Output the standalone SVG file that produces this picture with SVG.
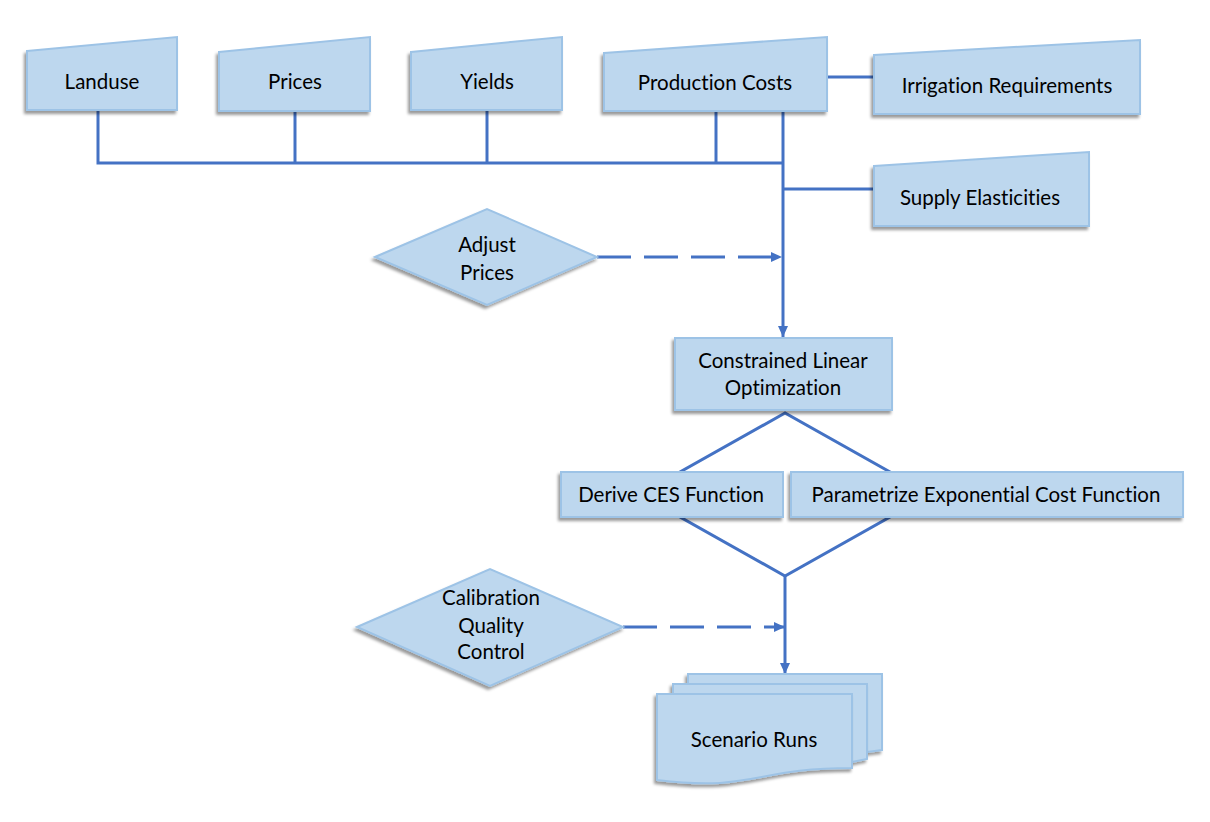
<svg xmlns="http://www.w3.org/2000/svg" width="1210" height="822" viewBox="0 0 1210 822">
<defs>
<filter id="sh" x="-10%" y="-10%" width="120%" height="130%">
<feDropShadow dx="-2" dy="3" stdDeviation="1.8" flood-color="#000" flood-opacity="0.4"/>
</filter>
<marker id="arr" markerUnits="userSpaceOnUse" markerWidth="12" markerHeight="12" viewBox="0 0 12 12" refX="11" refY="6" orient="auto">
<path d="M0,1 L11,6 L0,11 Z" fill="#4472C4"/>
</marker>
</defs>
<style>
.shape{fill:#BDD7EE;stroke:#9DC3E6;stroke-width:2;filter:url(#sh)}
.conn{fill:none;stroke:#4472C4;stroke-width:3}
.dash{stroke-dasharray:34 13}
text{font-family:Lato,"Open Sans","Liberation Sans",sans-serif;font-size:20.5px;fill:#000;text-anchor:middle;font-variant-ligatures:none;font-feature-settings:"liga" 0}
</style>
<rect width="1210" height="822" fill="#fff"/>
<g id="connectors">
<path class="conn" d="M98,110 V163 H783"/>
<path class="conn" d="M295,111 V163"/>
<path class="conn" d="M487,110 V163"/>
<path class="conn" d="M716,111 V163"/>
<path class="conn" d="M783,111 V337" marker-end="url(#arr)"/>
<path class="conn" d="M827,77 H874"/>
<path class="conn" d="M783,189 H874"/>
<path class="conn dash" d="M597,257 H782" marker-end="url(#arr)"/>
<path class="conn" d="M785,413 L640,494.5 L785,576 L930,494.5 Z"/>
<path class="conn" d="M785,576 V674" marker-end="url(#arr)"/>
<path class="conn dash" d="M623,627 H785" marker-end="url(#arr)"/>
</g>
<g id="landuse">
<polygon class="shape" points="27,51 177,37 177,110 27,110"/>
<text x="102" y="89">Landuse</text>
</g>
<g id="prices">
<polygon class="shape" points="219,52 370,37 370,111 219,111"/>
<text x="295" y="89">Prices</text>
</g>
<g id="yields">
<polygon class="shape" points="411,52 562,37 562,110 411,110"/>
<text x="487" y="89">Yields</text>
</g>
<g id="production-costs">
<polygon class="shape" points="604,53 827,37 827,111 604,111"/>
<text x="715" y="90">Production Costs</text>
</g>
<g id="irrigation-requirements">
<polygon class="shape" points="874,55 1140,40 1140,114 874,114"/>
<text x="1007" y="93">Irrigation Requirements</text>
</g>
<g id="supply-elasticities">
<polygon class="shape" points="874,166 1089,152 1089,226 874,226"/>
<text x="980" y="205">Supply Elasticities</text>
</g>
<g id="adjust-prices">
<polygon class="shape" points="375,257 487,209 597,257 487,305"/>
<text x="487" y="252">Adjust</text>
<text x="487" y="280">Prices</text>
</g>
<g id="constrained-linear-optimization">
<rect class="shape" x="675" y="338" width="217" height="72"/>
<text x="783" y="368">Constrained Linear</text>
<text x="783" y="395">Optimization</text>
</g>
<g id="derive-ces-function">
<rect class="shape" x="561" y="472" width="222" height="45"/>
<text x="671" y="502">Derive CES Function</text>
</g>
<g id="parametrize-exponential-cost-function">
<rect class="shape" x="791" y="472" width="392" height="45"/>
<text x="986" y="502">Parametrize Exponential Cost Function</text>
</g>
<g id="calibration-quality-control">
<polygon class="shape" points="357,627 490,569 623,627 490,686"/>
<text x="491" y="605">Calibration</text>
<text x="491" y="633">Quality</text>
<text x="491" y="659">Control</text>
</g>
<g id="scenario-runs">
<path class="shape" d="M688,674 H882 V750 L867,752 L688,752 Z"/>
<path class="shape" d="M673,684 H867 V759 L852,762 L673,762 Z"/>
<path class="shape" d="M657,694 H852 V768 C754,768 754,792 657,780 Z"/>
<text x="754" y="747">Scenario Runs</text>
</g>
</svg>
